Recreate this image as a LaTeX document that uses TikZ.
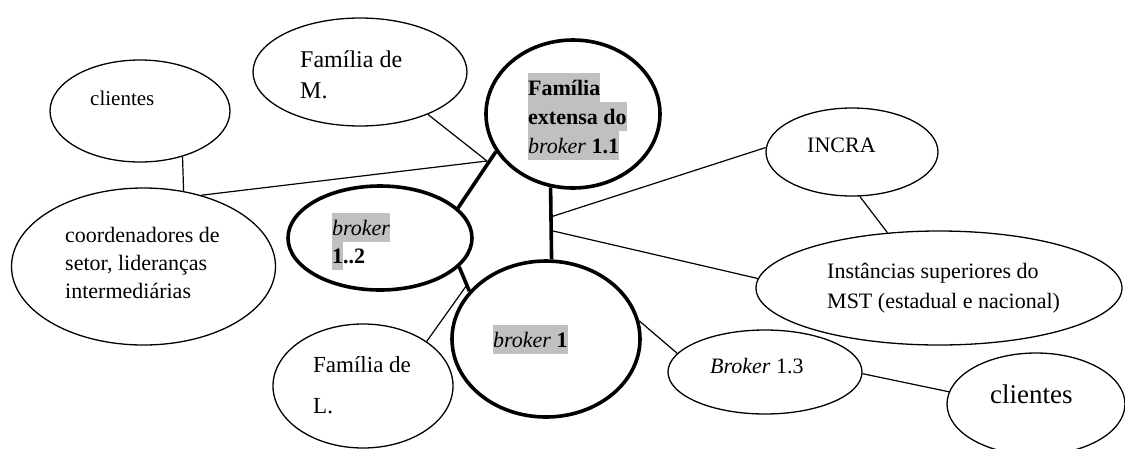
\documentclass[tikz,border=0pt]{standalone}
\usepackage{fontspec}
\setmainfont{Liberation Serif}
\usetikzlibrary{shapes.geometric,calc}
\definecolor{hlgray}{RGB}{192,192,192}
% gray text highlight covering the full line height
\newcommand\hlt[1]{{\setlength\fboxsep{0pt}\colorbox{hlgray}{\vrule height 1.02em depth .3em width 0pt #1}}}
% stacked lines with a given baseline distance, baseline = first line
\newcommand\stack[2]{\vtop{\baselineskip=#1\lineskiplimit=-100pt\relax #2}}
\begin{document}
\begin{tikzpicture}[x=1pt,y=-1pt,
  ell/.style={ellipse,draw,line width=1.3pt,fill=white,inner sep=0pt},
  bold ell/.style={ell,line width=3.6pt},
  txt/.style={anchor=base west,inner sep=0pt,font=\fontsize{22}{28}\selectfont},
  thin link/.style={line width=1.2pt},
  thick link/.style={line width=3.6pt}]
\useasboundingbox (0,0) rectangle (1125,448);

% ellipses
\node[ell,minimum width=214pt,minimum height=108pt] (famM) at (360,72) {};
\node[bold ell,minimum width=174pt,minimum height=148pt] (famE) at (573,114) {};
\node[ell,minimum width=180pt,minimum height=102pt] (cl1) at (140,111) {};
\node[ell,minimum width=264pt,minimum height=157pt] (coord) at (143.5,266.5) {};
\node[bold ell,minimum width=184pt,minimum height=104pt] (b12) at (380,238) {};
\node[bold ell,minimum width=188pt,minimum height=156pt] (b1) at (546,339) {};
\node[ell,minimum width=180pt,minimum height=124pt] (famL) at (363,386) {};
\node[ell,minimum width=172pt,minimum height=88pt] (incra) at (852,152) {};
\node[ell,minimum width=366pt,minimum height=114pt] (inst) at (939,288) {};
\node[ell,minimum width=194pt,minimum height=84pt] (b13) at (765,372) {};
\node[ell,minimum width=178pt,minimum height=102pt] (cl2) at (1036,404) {};

% junction points
\coordinate (j1) at (487,161);
\coordinate (j2) at ($(famE.253.2)!0.41!(b1.86)$);
\coordinate (j3) at ($(famE.253.2)!0.6!(b1.86)$);
\coordinate (j4) at ($(b12.-20)!0.75!(b1.148)$);

% thin connectors
\draw[thin link] (famM.-32) -- (j1);
\draw[thin link] (coord.51) -- (j1);
\draw[thin link] (cl1.-47.6) -- (coord.62.9);
\draw[thin link] (j2) -- (incra.177);
\draw[thin link] (j3) -- (inst.177);
\draw[thin link] (incra.-80) -- (inst.133);
\draw[thin link] (famL.35) -- (j4);
\draw[thin link] (b1.11) -- (b13.168);
\draw[thin link] (b13.-1) -- (cl2.172);

% thick connectors
\draw[thick link] (famE.206.6) -- (b12.21.8);
\draw[thick link] (famE.253.2) -- (b1.86);
\draw[thick link] (b12.-20) -- (b1.148);

% labels
\node[txt,font=\fontsize{24}{31}\selectfont] (tfamM) at (300,67)
  {\stack{31pt}{\hbox{Família de}\hbox{M.}}};
\node[txt] (tfamE) at (528,95)
  {\stack{29pt}{\hbox{\hlt{\bfseries Família}}\hbox{\hlt{\bfseries extensa do}}\hbox{\hlt{\itshape broker \bfseries\upshape 1.1}}}};
\node[txt,font=\fontsize{21}{26}\selectfont] (tcl1) at (90,105) {clientes};
\node[txt] (tcoord) at (65,242)
  {\stack{28pt}{\hbox{coordenadores de}\hbox{setor, lideranças}\hbox{intermediárias}}};
\node[txt] (tb12) at (332,235)
  {\stack{28pt}{\hbox{\hlt{\itshape broker}}\hbox{\hlt{\bfseries 1}\bfseries..2}}};
\node[txt] (tb1) at (493,347) {\hlt{\itshape broker \upshape\bfseries 1}};
\node[txt,font=\fontsize{23}{41}\selectfont] (tfamL) at (313,372)
  {\stack{41pt}{\hbox{Família de}\hbox{L.}}};
\node[txt] (tincra) at (807,152) {INCRA};
\node[txt] (tinst) at (827,278)
  {\stack{30pt}{\hbox{Instâncias superiores do}\hbox{MST (estadual e nacional)}}};
\node[txt] (tb13) at (710,373) {\textit{Broker} 1.3};
\node[txt,font=\fontsize{27}{32}\selectfont] (tcl2) at (990,403) {clientes};
\end{tikzpicture}
\end{document}
